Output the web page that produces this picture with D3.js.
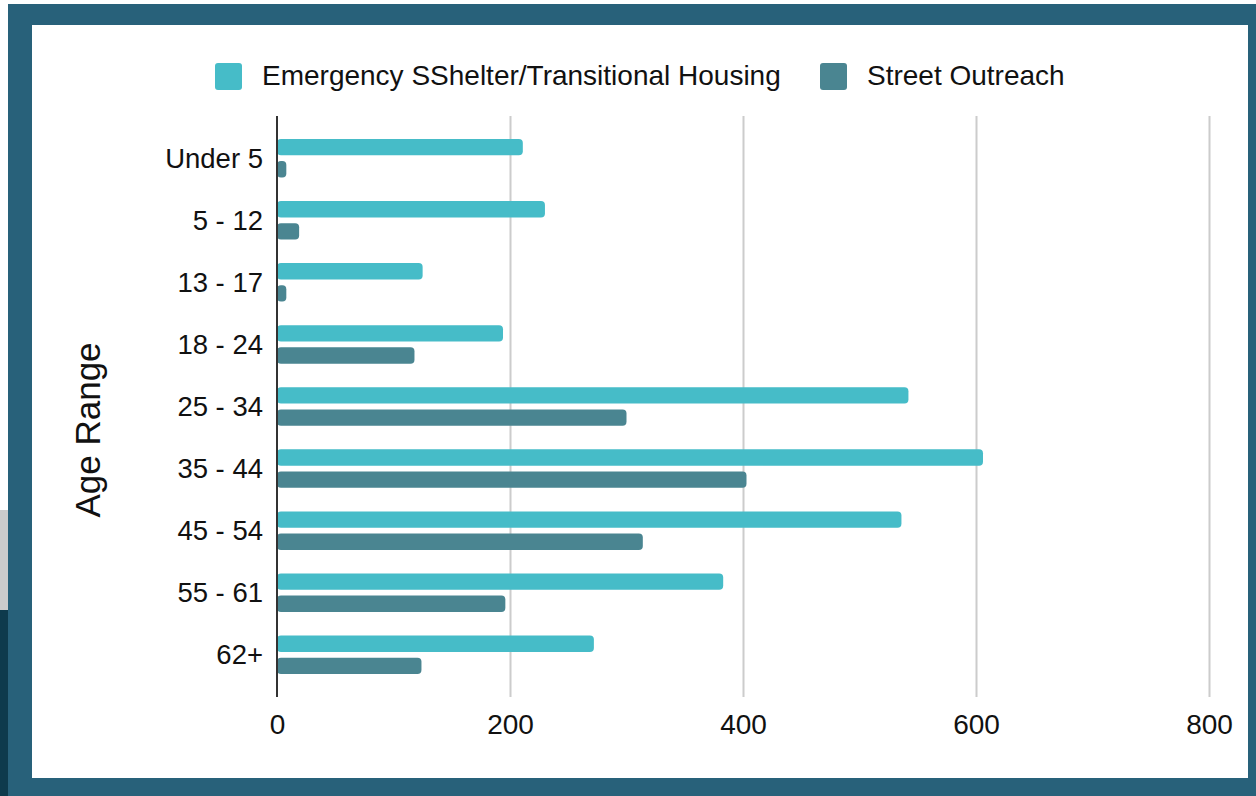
<!DOCTYPE html>
<html>
<head>
<meta charset="utf-8">
<script src="https://cdn.jsdelivr.net/npm/d3@7"></script>
<style>
  html, body { margin: 0; padding: 0; background: #ffffff; }
  svg { display: block; font-family: "Liberation Sans", Arial, Helvetica, sans-serif; }
</style>
</head>
<body>
<svg id="chart" width="1256" height="796"></svg>
<script>
// Age ranges, top to bottom
const categories = ["Under 5", "5 - 12", "13 - 17", "18 - 24", "25 - 34", "35 - 44", "45 - 54", "55 - 61", "62+"];
// Series names as shown in the legend
const seriesNames = ["Emergency SShelter/Transitional Housing", "Street Outreach"];
// Values per age range
const shelterValues  = [211, 230, 125, 194, 542, 606, 536, 383, 272];
const outreachValues = [8, 19, 8, 118, 300, 403, 314, 196, 124];
// Horizontal axis ticks
const xTicks = [0, 200, 400, 600, 800];

const colors = ["#46bcc8", "#4a8591"];
const textColor = "#111111";

const svg = d3.select("#chart");

// Frame: teal border around white panel, with the small strip on the far left
svg.append("rect").attr("x", 0).attr("y", 0).attr("width", 1256).attr("height", 796).attr("fill", "#ffffff");
svg.append("rect").attr("x", 0).attr("y", 510).attr("width", 8).attr("height", 100).attr("fill", "#cccccc");
svg.append("rect").attr("x", 0).attr("y", 610).attr("width", 8).attr("height", 186).attr("fill", "#0e3a4c");
svg.append("rect").attr("x", 8).attr("y", 4).attr("width", 1248).attr("height", 792).attr("fill", "#28617a");
svg.append("rect").attr("x", 32).attr("y", 25).attr("width", 1216).attr("height", 753).attr("fill", "#ffffff");

const plotTop = 116, plotBottom = 697;
const x = d3.scaleLinear().domain([0, 800]).range([277, 1209]);
const y = d3.scaleBand().domain(categories).range([plotTop, plotBottom]).paddingInner(0.38).paddingOuter(0.37);
const ySub = d3.scaleBand().domain(seriesNames).range([0, y.bandwidth()]).paddingInner(0.26);

const rows = categories.map((c, i) => ({ cat: c, values: [shelterValues[i], outreachValues[i]] }));

// Gridlines
const grid = svg.append("g")
  .attr("transform", `translate(0,${plotBottom})`)
  .call(d3.axisBottom(x).tickValues(xTicks.filter(d => d !== 0)).tickSize(-(plotBottom - plotTop)).tickFormat(""));
grid.select(".domain").remove();
grid.selectAll(".tick line").attr("stroke", "#cccccc").attr("stroke-width", 2);

// Bars
const groups = svg.append("g").selectAll("g").data(rows).join("g")
  .attr("transform", d => `translate(0,${y(d.cat)})`);
groups.selectAll("rect")
  .data(d => d.values.map((v, j) => ({ key: seriesNames[j], v, j })))
  .join("rect")
  .attr("x", x(0))
  .attr("y", d => ySub(d.key))
  .attr("width", d => x(d.v) - x(0))
  .attr("height", ySub.bandwidth())
  .attr("rx", 4)
  .attr("fill", d => colors[d.j]);

// Zero axis line
svg.append("line")
  .attr("x1", x(0)).attr("x2", x(0))
  .attr("y1", plotTop).attr("y2", plotBottom)
  .attr("stroke", "#333333").attr("stroke-width", 2);

// X tick labels
const xAxis = svg.append("g")
  .attr("transform", `translate(0,${plotBottom})`)
  .call(d3.axisBottom(x).tickValues(xTicks).tickSize(0).tickPadding(0));
xAxis.select(".domain").remove();
xAxis.selectAll("text")
  .attr("y", 37).attr("dy", 0)
  .attr("font-size", 28).attr("fill", textColor)
  .attr("font-family", "Liberation Sans, Arial, sans-serif");

// Y category labels
const yAxis = svg.append("g")
  .attr("transform", `translate(${x(0)},0)`)
  .call(d3.axisLeft(y).tickSize(0).tickPadding(14));
yAxis.select(".domain").remove();
yAxis.selectAll("text")
  .attr("font-size", 27.5).attr("fill", textColor)
  .attr("dy", "0.35em")
  .attr("font-family", "Liberation Sans, Arial, sans-serif");

// Axis title
svg.append("text")
  .attr("transform", "translate(100,430) rotate(-90)")
  .attr("text-anchor", "middle")
  .attr("font-size", 35)
  .attr("fill", textColor)
  .text("Age Range");

// Legend
const legendItems = [
  { name: seriesNames[0], sx: 215, color: colors[0] },
  { name: seriesNames[1], sx: 820, color: colors[1] }
];
const legend = svg.append("g").selectAll("g").data(legendItems).join("g");
legend.append("rect")
  .attr("x", d => d.sx).attr("y", 63)
  .attr("width", 27).attr("height", 27).attr("rx", 3)
  .attr("fill", d => d.color);
legend.append("text")
  .attr("x", d => d.sx + 47).attr("y", 85)
  .attr("font-size", 28).attr("fill", textColor)
  .text(d => d.name);
</script>
</body>
</html>
